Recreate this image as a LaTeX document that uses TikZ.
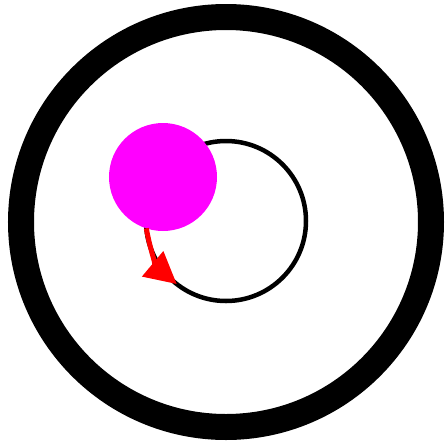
\documentclass[tikz,border=0pt]{standalone}
\usepackage{tikz}
\usetikzlibrary{arrows.meta}

\definecolor{ballpink}{RGB}{255,0,255}

\begin{document}
\begin{tikzpicture}[
    rim/.style={circle, draw, line width=0.52cm, minimum size=8.2cm, inner sep=0pt},
    orbit/.style={circle, draw, line width=0.09cm, minimum size=3.2cm, inner sep=0pt, outer sep=0pt},
    ball/.style={circle, fill=ballpink, minimum size=2.16cm, inner sep=0pt, outer sep=0pt},
    push/.style={red, line width=0.1cm, -{Triangle[length=0.63cm, width=0.64cm]}}
]

    % Fix the frame
    \useasboundingbox (-4.52,-4.44) rectangle (4.40,4.44);

    % Outer ring and the small orbit
    \node[rim] (R) at (0,0) {};
    \node[orbit] (O) at (0,0.02) {};

    % Magenta ball sitting on the orbit
    \node[ball] (B) at (-1.26,0.9) {};

    % Direction of motion
    \draw[push] (B.252) to[out=-80, in=140] (O.232);

\end{tikzpicture}
\end{document}
